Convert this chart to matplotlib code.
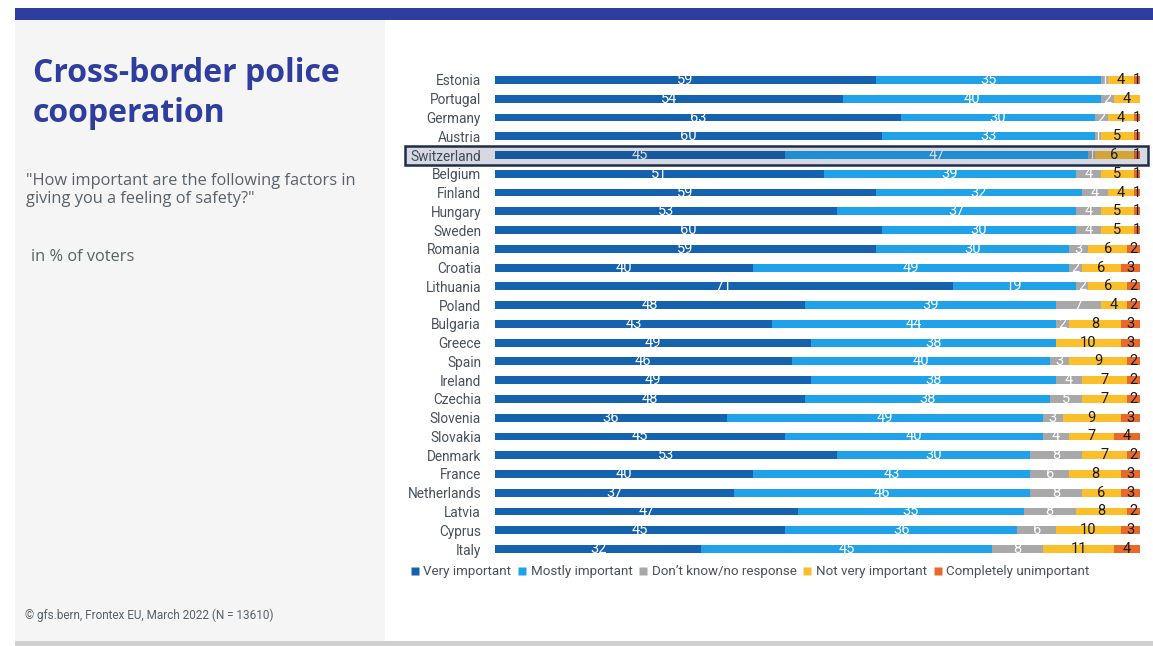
import matplotlib
matplotlib.use("Agg")
import matplotlib.pyplot as plt
from matplotlib.patches import Rectangle
from matplotlib.lines import Line2D
import numpy as np

countries = ["Estonia", "Portugal", "Germany", "Austria", "Switzerland", "Belgium",
             "Finland", "Hungary", "Sweden", "Romania", "Croatia", "Lithuania",
             "Poland", "Bulgaria", "Greece", "Spain", "Ireland", "Czechia",
             "Slovenia", "Slovakia", "Denmark", "France", "Netherlands", "Latvia",
             "Cyprus", "Italy"]

very_important = [59, 54, 63, 60, 45, 51, 59, 53, 60, 59, 40, 71, 48, 43, 49, 46, 49, 48,
                  36, 45, 53, 40, 37, 47, 45, 32]
mostly_important = [35, 40, 30, 33, 47, 39, 32, 37, 30, 30, 49, 19, 39, 44, 38, 40, 38, 38,
                    49, 40, 30, 43, 46, 35, 36, 45]
dont_know = [1, 2, 2, 1, 1, 4, 4, 4, 4, 3, 2, 2, 7, 2, 0, 3, 4, 5,
             3, 4, 8, 6, 8, 8, 6, 8]
not_very = [4, 4, 4, 5, 6, 5, 4, 5, 5, 6, 6, 6, 4, 8, 10, 9, 7, 7,
            9, 7, 7, 8, 6, 8, 10, 11]
completely_unimportant = [1, 0, 1, 1, 1, 1, 1, 1, 1, 2, 3, 2, 2, 3, 3, 2, 2, 2,
                          3, 4, 2, 3, 3, 2, 3, 4]

series_names = ["Very important", "Mostly important", "Don\u2019t know/no response",
                "Not very important", "Completely unimportant"]
series = [very_important, mostly_important, dont_know, not_very, completely_unimportant]
colors = ["#1563ae", "#20a2ea", "#a8a8a8", "#fcbf2c", "#e8692a"]
label_colors = ["white", "white", "white", "#1a1a1a", "#1a1a1a"]

highlight = "Switzerland"

narrow = "Roboto"
plain = "Open Sans"

W, H = 1153, 646
fig = plt.figure(figsize=(W / 100, H / 100), dpi=100)


def px(x0, y0, x1, y1):
    # pixel box (top-left origin) -> figure fraction rect
    return (x0 / W, 1 - y1 / H), (x1 - x0) / W, (y1 - y0) / H


# page decoration: top band, left panel, bottom rule
for box, col in [((15, 8, W, 20), "#2f3e9e"), ((15, 20, 385, 641), "#f5f5f5"),
                 ((15, 641, W, H), "#cfcfcf")]:
    xy, w, h = px(*box)
    fig.patches.append(Rectangle(xy, w, h, transform=fig.transFigure,
                                 facecolor=col, edgecolor="none", zorder=0))

fig.text(33 / W, 1 - 94 / H, "Cross-border police\ncooperation", family=plain,
         fontweight="bold", fontsize=23, color="#2f3e9e", va="center", ha="left",
         linespacing=1.28)
fig.text(26 / W, 1 - 190 / H,
         "\"How important are the following factors in\ngiving you a feeling of safety?\"",
         family=plain, fontsize=11.8, color="#56626c", va="center", ha="left",
         linespacing=1.15)
fig.text(31 / W, 1 - 257 / H, "in % of voters", family=plain, fontsize=11.8,
         color="#56626c", va="center", ha="left")
fig.text(25 / W, 1 - 615 / H, "\u00a9 gfs.bern, Frontex EU, March 2022 (N = 13610)",
         family=narrow, fontsize=8.5, color="#56626c", va="center", ha="left")

# chart area
ax = fig.add_axes([495 / W, 1 - 558.4 / H, 645 / W, 487.8 / H])
y = np.arange(len(countries))
left = np.zeros(len(countries))
for vals, col, tcol in zip(series, colors, label_colors):
    vals = np.array(vals, dtype=float)
    ax.barh(y, vals, left=left, height=0.42, color=col, edgecolor="none", zorder=2)
    for yi, (l, v) in enumerate(zip(left, vals)):
        if v > 0:
            ax.text(l + v / 2, yi, f"{v:.0f}", ha="center", va="center",
                    fontsize=10.5, family=narrow, color=tcol, zorder=3)
    left += vals

ax.set_xlim(0, 100)
ax.set_ylim(len(countries) - 0.5, -0.5)
ax.set_yticks(y)
ax.set_yticklabels(countries, family=narrow, fontsize=9.8, color="#46525c")
ax.tick_params(axis="y", length=0, pad=10)
ax.set_xticks([])
for s in ax.spines.values():
    s.set_visible(False)
ax.patch.set_alpha(0)

# highlighted row
hi = countries.index(highlight)
row_px = 80 + hi * 18.76
xy, w, h = px(405, row_px - 9.5, 1148, row_px + 9.5)
fig.patches.append(Rectangle(xy, w, h, transform=fig.transFigure,
                             facecolor=(0.12, 0.18, 0.35, 0.18), edgecolor="#1f2d4a",
                             linewidth=1.8, zorder=5))

handles = [Line2D([], [], marker="s", linestyle="none", markersize=6,
                  markerfacecolor=c, markeredgecolor="none") for c in colors]
fig.legend(handles, series_names, loc="center left",
           bbox_to_anchor=(410 / W, 1 - 572 / H), ncol=5, frameon=False,
           handlelength=0.7, handletextpad=0.3, columnspacing=0.45,
           borderaxespad=0, borderpad=0,
           prop={"family": narrow, "size": 9.6}, labelcolor="#46525c")

fig.savefig("out.png", dpi=100)
